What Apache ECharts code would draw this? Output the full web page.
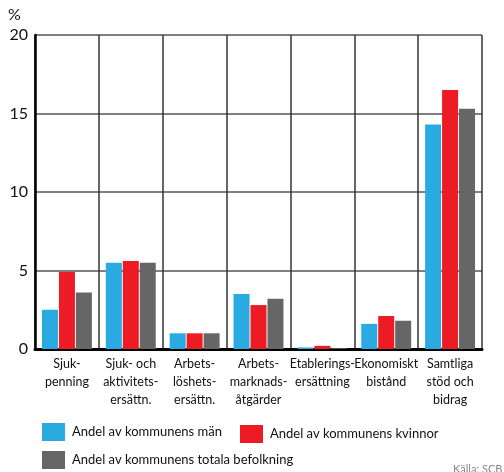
<!DOCTYPE html>
<html><head><meta charset="utf-8">
<script src="https://cdn.jsdelivr.net/npm/echarts@6/dist/echarts.min.js"></script>
<style>html,body{margin:0;padding:0;background:#fff}#c{width:504px;height:472px}</style>
</head><body><div id="c"></div>
<script>
const categories = ['Sjuk-\npenning','Sjuk- och\naktivitets-\nersättn.','Arbets-\nlöshets-\nersättn.','Arbets-\nmarknads-\nåtgärder','Etablerings-\nersättning','Ekonomiskt\nbistånd','Samtliga\nstöd och\nbidrag'];
const seriesNames = ['Andel av kommunens män','Andel av kommunens kvinnor','Andel av kommunens totala befolkning'];
const men = [2.5, 5.5, 1.0, 3.5, 0.1, 1.6, 14.3];
const women = [4.9, 5.6, 1.0, 2.8, 0.2, 2.1, 16.5];
const total = [3.6, 5.5, 1.0, 3.2, 0.05, 1.8, 15.3];
const yTicks = [0, 5, 10, 15, 20];
const colors = ['#29abe2', '#ed1c24', '#666666'];
const FONT = 'Lato';
const chart = echarts.init(document.getElementById('c'));
const legendText = {fontFamily: FONT, fontSize: 13, color: '#111', padding: [0, 0, 0, 2]};
const legendBase = {itemWidth: 23, itemHeight: 18, icon: 'rect', textStyle: legendText, padding: 0};
chart.setOption({
  animation: false,
  textStyle: {fontFamily: FONT},
  grid: {left: 35, right: 22, top: 35, bottom: 123},
  legend: [
    Object.assign({data: [seriesNames[0]], left: 42, top: 423}, legendBase),
    Object.assign({data: [seriesNames[1]], left: 240, top: 425}, legendBase),
    Object.assign({data: [seriesNames[2]], left: 42, top: 451}, legendBase)
  ],
  xAxis: {
    type: 'category', data: categories,
    axisLine: {lineStyle: {color: '#000', width: 3}},
    axisTick: {show: false},
    axisLabel: {fontFamily: FONT, fontSize: 12.5, color: '#111', lineHeight: 18, margin: 6, interval: 0},
    splitLine: {show: true, showMaxLine: true, lineStyle: {color: '#333', width: 1.5}}
  },
  yAxis: {
    type: 'value', min: yTicks[0], max: yTicks[yTicks.length-1], interval: 5,
    axisLine: {show: true, lineStyle: {color: '#000', width: 2.5}},
    axisTick: {show: false},
    axisLabel: {fontFamily: FONT, fontSize: 16, color: '#111', margin: 7},
    splitLine: {lineStyle: {color: '#555', width: 1.5}}
  },
  series: [
    {name: seriesNames[0], type: 'bar', data: men, barWidth: 16, barGap: '6%', itemStyle: {color: colors[0]}},
    {name: seriesNames[1], type: 'bar', data: women, barWidth: 16, barGap: '6%', itemStyle: {color: colors[1]}},
    {name: seriesNames[2], type: 'bar', data: total, barWidth: 16, barGap: '6%', itemStyle: {color: colors[2]}}
  ],
  graphic: [
    {type: 'text', left: 8, top: 7, style: {text: '%', font: '16px ' + FONT, fill: '#111'}},
    {type: 'text', left: 453, top: 464, style: {text: 'Källa: SCB', font: '11px ' + FONT, fill: '#888'}}
  ]
});
</script></body></html>
